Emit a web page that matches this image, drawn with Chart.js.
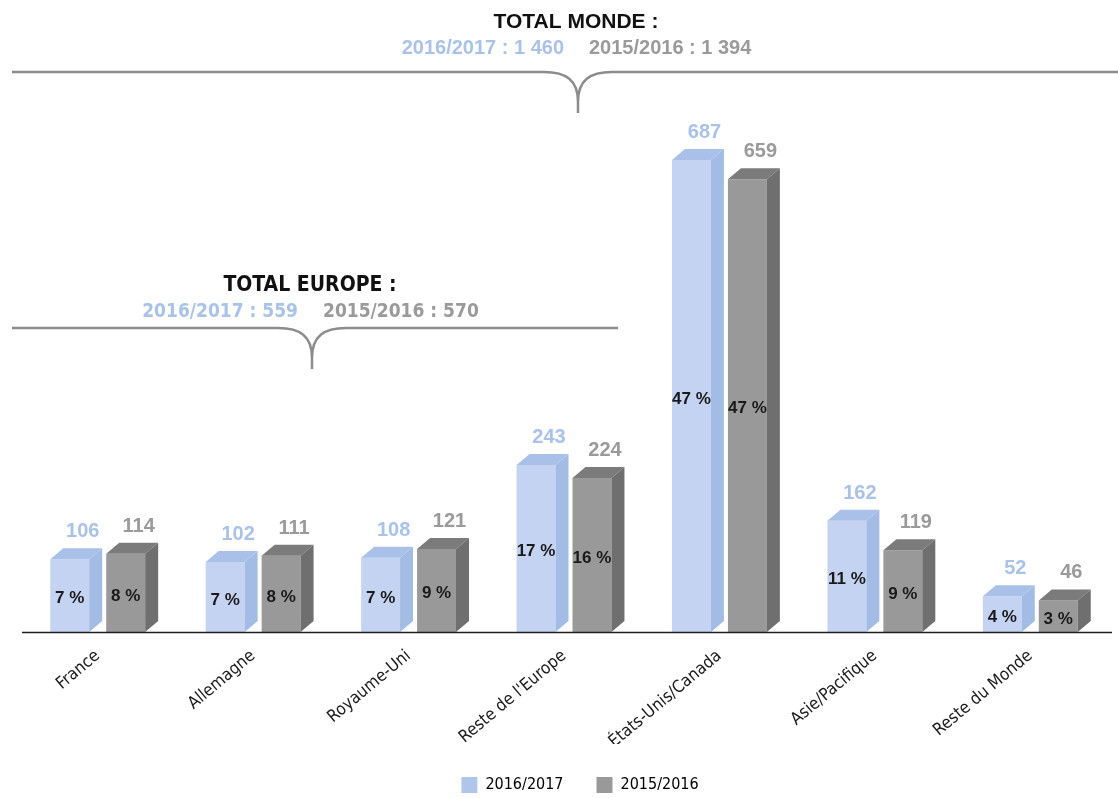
<!DOCTYPE html>
<html>
<head>
<meta charset="utf-8">
<script src="https://cdn.jsdelivr.net/npm/chart.js@4.4.0/dist/chart.umd.min.js"></script>
<style>
  html, body { margin: 0; padding: 0; background: #fff; }
  #wrap { width: 1118px; height: 798px; position: relative; }
</style>
</head>
<body>
<div id="wrap"><canvas id="regions"></canvas></div>
<script>
// Regions and yearly figures
const categories = ["France", "Allemagne", "Royaume-Uni", "Reste de l'Europe", "États-Unis/Canada", "Asie/Pacifique", "Reste du Monde"];
const seriesNames = ["2016/2017", "2015/2016"];
const values1617 = [106, 102, 108, 243, 687, 162, 52];
const values1516 = [114, 111, 121, 224, 659, 119, 46];
const share1617 = ["7 %", "7 %", "7 %", "17 %", "47 %", "11 %", "4 %"];
const share1516 = ["8 %", "8 %", "9 %", "16 %", "47 %", "9 %", "3 %"];
const totalEurope = ["559", "570"];
const totalMonde = ["1 460", "1 394"];

// front / top / side / label colours per series
const palette = [
  { front: "#c4d3f1", top: "#a9c1e9", side: "#a2bce6", text: "#a9c2ea", legend: "#aec6ec" },
  { front: "#999999", top: "#7b7b7b", side: "#6f6f6f", text: "#9a9a9a", legend: "#999999" }
];
const DX = 13, DY = 11;
const NARROW = "'Liberation Sans Narrow', 'DejaVu Sans Condensed', 'Liberation Sans', sans-serif";
const SANS = "'Liberation Sans', Arial, sans-serif";

// draws side and top faces, then values above and shares inside
const boxes3d = {
  id: "boxes3d",
  afterDatasetsDraw(chart) {
    const ctx = chart.ctx;
    const shares = [share1617, share1516];
    ctx.save();
    chart.data.datasets.forEach((ds, i) => {
      const meta = chart.getDatasetMeta(i);
      const col = palette[i];
      meta.data.forEach((bar, j) => {
        const p = bar.getProps(["x", "y", "base", "width"], true);
        const l = p.x - p.width / 2, r = p.x + p.width / 2;
        ctx.fillStyle = col.top;
        ctx.beginPath();
        ctx.moveTo(l, p.y);
        ctx.lineTo(l + DX, p.y - DY);
        ctx.lineTo(r + DX, p.y - DY);
        ctx.lineTo(r, p.y);
        ctx.closePath();
        ctx.fill();
        ctx.fillStyle = col.side;
        ctx.beginPath();
        ctx.moveTo(r, p.y);
        ctx.lineTo(r + DX, p.y - DY);
        ctx.lineTo(r + DX, p.base - DY);
        ctx.lineTo(r, p.base);
        ctx.closePath();
        ctx.fill();

        ctx.textAlign = "center";
        ctx.textBaseline = "alphabetic";
        ctx.fillStyle = col.text;
        ctx.font = "bold 20px " + SANS;
        ctx.fillText(String(ds.data[j]), p.x + DX, p.y - DY - 11);

        ctx.fillStyle = "#1a1a1a";
        ctx.font = "bold 17px " + SANS;
        ctx.textBaseline = "middle";
        ctx.fillText(shares[i][j], p.x, (p.y + p.base) / 2 + 3);
      });
    });
    ctx.restore();
  }
};

// baseline, braces and the total captions
const braces = {
  id: "braces",
  afterLayout(chart) {
    // legend sits a little right of the page centre
    chart.legend.left += 16;
    chart.legend.right += 16;
  },
  afterDraw(chart) {
    const ctx = chart.ctx;
    const area = chart.chartArea;
    ctx.save();
    ctx.strokeStyle = "#1f1f1f";
    ctx.lineWidth = 1.5;
    ctx.beginPath();
    ctx.moveTo(22, area.bottom + 0.5);
    ctx.lineTo(1112, area.bottom + 0.5);
    ctx.stroke();

    const drawBrace = (x0, x1, tip, y) => {
      ctx.strokeStyle = "#8c8c8c";
      ctx.lineWidth = 2.5;
      ctx.beginPath();
      ctx.moveTo(x0, y);
      ctx.lineTo(tip - 34, y);
      ctx.bezierCurveTo(tip - 12, y, tip, y + 8, tip, y + 30);
      ctx.lineTo(tip, y + 41);
      ctx.moveTo(x1, y);
      ctx.lineTo(tip + 34, y);
      ctx.bezierCurveTo(tip + 12, y, tip, y + 8, tip, y + 30);
      ctx.stroke();
    };
    const drawCaption = (title, vals, cx, y, titleFont, valFont) => {
      ctx.textBaseline = "alphabetic";
      ctx.fillStyle = "#111111";
      ctx.font = titleFont;
      ctx.textAlign = "center";
      ctx.fillText(title, cx, y);
      ctx.font = valFont;
      ctx.textAlign = "right";
      ctx.fillStyle = palette[0].text;
      ctx.fillText(seriesNames[0] + " : " + vals[0], cx - 12, y + 26);
      ctx.textAlign = "left";
      ctx.fillStyle = palette[1].text;
      ctx.fillText(seriesNames[1] + " : " + vals[1], cx + 13, y + 26);
    };

    const xs = chart.scales.x;
    const europeRight = xs.getPixelForValue(3) + 54;
    drawBrace(12, europeRight, (12 + europeRight) / 2 - 3, 328);
    drawBrace(12, chart.width, 578, 72);
    drawCaption("TOTAL MONDE :", totalMonde, 576, 28, "bold 21px " + SANS, "bold 20px " + SANS);
    drawCaption("TOTAL EUROPE :", totalEurope, 310, 291, "bold 21px " + NARROW, "bold 19px " + NARROW);
    ctx.restore();
  }
};

new Chart(document.getElementById("regions"), {
  type: "bar",
  data: {
    labels: categories,
    datasets: [
      { label: seriesNames[0], data: values1617, backgroundColor: palette[0].front },
      { label: seriesNames[1], data: values1516, backgroundColor: palette[1].front }
    ]
  },
  plugins: [boxes3d, braces],
  options: {
    responsive: true,
    maintainAspectRatio: false,
    animation: false,
    layout: { padding: { left: 20, right: 10, top: 0, bottom: 0 } },
    datasets: {
      bar: { categoryPercentage: 0.72, barPercentage: 0.696, borderWidth: 0 }
    },
    scales: {
      x: {
        grid: { display: false },
        border: { display: false },
        afterFit: (scale) => { scale.height = 112; },
        ticks: {
          color: "#1a1a1a",
          font: { family: NARROW, size: 17 },
          minRotation: 40,
          maxRotation: 40,
          padding: 6,
          autoSkip: false
        }
      },
      y: { display: false, min: 0, max: 920 }
    },
    plugins: {
      tooltip: { enabled: false },
      legend: {
        position: "bottom",
        maxHeight: 54,
        labels: {
          boxWidth: 16,
          boxHeight: 16,
          padding: 33,
          color: "#1a1a1a",
          font: { family: NARROW, size: 16 },
          generateLabels: (chart) => chart.data.datasets.map((ds, i) => ({
            text: ds.label,
            fillStyle: palette[i].legend,
            strokeStyle: palette[i].legend,
            lineWidth: 0,
            datasetIndex: i
          }))
        }
      }
    }
  }
});
</script>
</body>
</html>
